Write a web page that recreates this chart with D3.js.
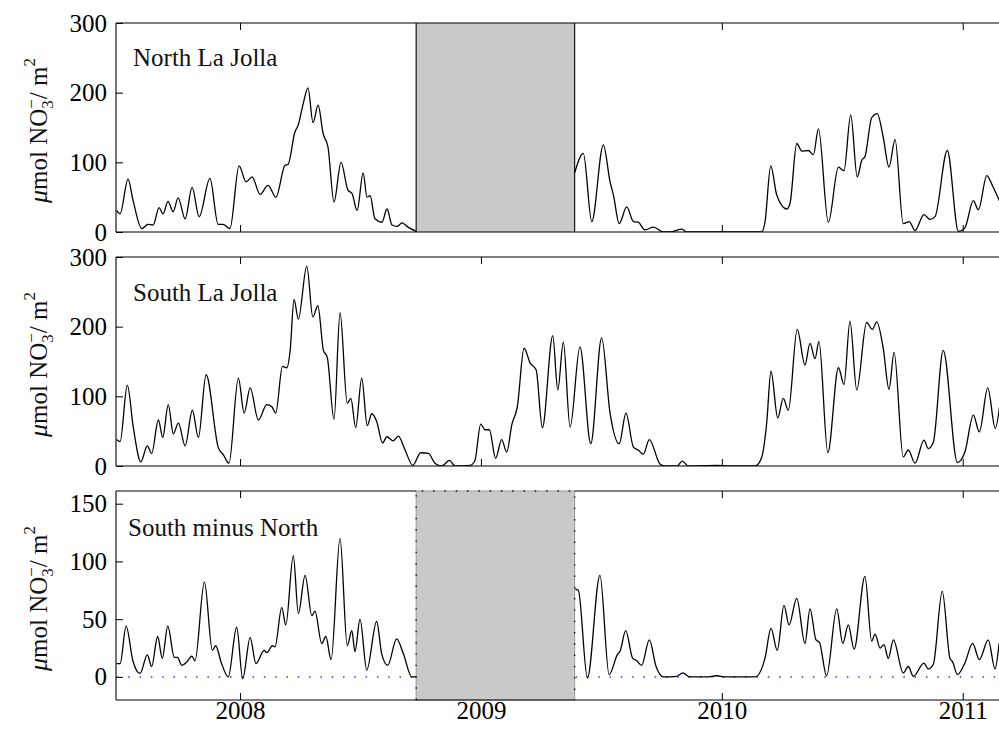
<!DOCTYPE html>
<html>
<head>
<meta charset="utf-8">
<script src="https://cdn.jsdelivr.net/npm/d3@7"></script>
<style>
html, body { margin: 0; padding: 0; background: #fff; }
svg { display: block; }
</style>
</head>
<body>
<svg id="chart" width="999" height="734"></svg>
<script>
// Depth-integrated nitrate (umol NO3- per m2) at the La Jolla moorings.
// Time is in decimal years; a null value marks a break in a record.
const yearTicks = [2008, 2009, 2010, 2011];
const gapStart = 2008.731;   // north mooring out of the water
const gapEnd = 2009.389;

const northTicks = [0, 100, 200, 300];
const southTicks = [0, 100, 200, 300];
const diffTicks = [0, 50, 100, 150];

const northTime = [
  2007.488, 2007.502, 2007.535, 2007.556, 2007.592, 2007.618, 2007.639, 2007.664, 2007.680, 2007.701,
  2007.722, 2007.743, 2007.772, 2007.801, 2007.830, 2007.875, 2007.909, 2007.929, 2007.958, 2007.996,
  2008.025, 2008.050, 2008.083, 2008.116, 2008.149, 2008.187, 2008.199, 2008.228, 2008.241, 2008.262,
  2008.282, 2008.303, 2008.324, 2008.345, 2008.365, 2008.390, 2008.419, 2008.448, 2008.465, 2008.486,
  2008.511, 2008.527, 2008.540, 2008.560, 2008.589, 2008.610, 2008.631, 2008.652, 2008.672, 2008.697,
  2008.731,
  2009.000,
  2009.389, 2009.425, 2009.460, 2009.508, 2009.536, 2009.550, 2009.574, 2009.605, 2009.633, 2009.653,
  2009.681, 2009.716, 2009.757, 2009.785, 2009.834, 2009.854, 2009.923, 2009.992, 2010.088, 2010.166,
  2010.179, 2010.203, 2010.228, 2010.269, 2010.283, 2010.311, 2010.332, 2010.359, 2010.380, 2010.401,
  2010.442, 2010.484, 2010.507, 2010.535, 2010.562, 2010.581, 2010.594, 2010.622, 2010.645, 2010.670,
  2010.694, 2010.719, 2010.753, 2010.778, 2010.802, 2010.839, 2010.864, 2010.885, 2010.936, 2010.982,
  2011.009, 2011.044, 2011.065, 2011.100, 2011.124, 2011.152
];
const northValue = [
  31, 26, 76, 45, 5, 11, 10, 35, 26, 44,
  29, 49, 19, 64, 22, 77, 11, 11, 5, 95,
  72, 79, 54, 67, 50, 96, 97, 144, 153, 184,
  207, 157, 182, 141, 122, 43, 100, 60, 55, 31,
  85, 50, 52, 19, 14, 33, 10, 8, 13, 7,
  1,
  null,
  85, 113, 15, 125, 72, 53, 12, 36, 15, 14,
  3, 7, 0, 0, 4, 0, 0, 0, 0, 0,
  14, 95, 53, 33, 41, 127, 116, 117, 111, 148,
  14, 93, 88, 168, 79, 103, 108, 164, 170, 136,
  93, 133, 12, 15, 2, 25, 18, 22, 117, 1,
  6, 45, 32, 81, 66, 45
];

const southTime = [
  2007.488, 2007.502, 2007.532, 2007.557, 2007.588, 2007.615, 2007.633, 2007.661, 2007.679, 2007.702,
  2007.723, 2007.744, 2007.772, 2007.802, 2007.827, 2007.859, 2007.910, 2007.931, 2007.954, 2007.993,
  2008.017, 2008.042, 2008.076, 2008.111, 2008.132, 2008.148, 2008.176, 2008.194, 2008.208, 2008.224,
  2008.242, 2008.277, 2008.302, 2008.323, 2008.346, 2008.362, 2008.390, 2008.415, 2008.445, 2008.460,
  2008.480, 2008.505, 2008.528, 2008.547, 2008.567, 2008.592, 2008.609, 2008.636, 2008.657, 2008.685,
  2008.717, 2008.750, 2008.782, 2008.809, 2008.837, 2008.869, 2008.892, 2008.955, 2008.975, 2008.999,
  2009.017, 2009.035, 2009.061, 2009.086, 2009.107, 2009.128, 2009.151, 2009.179, 2009.204, 2009.229,
  2009.255, 2009.298, 2009.319, 2009.342, 2009.370, 2009.411, 2009.456, 2009.501, 2009.536, 2009.574,
  2009.602, 2009.633, 2009.653, 2009.674, 2009.699, 2009.743, 2009.764, 2009.813, 2009.836, 2009.861,
  2009.979, 2010.034, 2010.089, 2010.138, 2010.166, 2010.186, 2010.204, 2010.232, 2010.255, 2010.276,
  2010.313, 2010.345, 2010.366, 2010.387, 2010.403, 2010.440, 2010.484, 2010.507, 2010.532, 2010.560,
  2010.601, 2010.625, 2010.643, 2010.670, 2010.694, 2010.715, 2010.753, 2010.774, 2010.802, 2010.839,
  2010.857, 2010.878, 2010.919, 2010.978, 2011.009, 2011.044, 2011.069, 2011.104, 2011.135, 2011.153
];
const southValue = [
  38, 35, 116, 55, 6, 29, 18, 66, 41, 88,
  46, 62, 29, 80, 41, 131, 26, 16, 4, 126,
  76, 112, 66, 88, 85, 76, 143, 141, 166, 239,
  211, 287, 214, 230, 166, 156, 67, 220, 90, 97,
  55, 126, 58, 75, 64, 33, 42, 36, 43, 23,
  1, 19, 18, 4, 0, 8, 0, 1, 8, 60,
  52, 52, 11, 38, 20, 59, 85, 169, 148, 138,
  55, 187, 109, 178, 56, 171, 32, 184, 76, 32,
  76, 27, 23, 17, 38, 3, 0, 0, 7, 0,
  1, 0, 0, 0, 13, 61, 136, 69, 97, 80,
  196, 145, 176, 154, 179, 19, 141, 117, 208, 109,
  206, 196, 207, 169, 110, 163, 13, 23, 4, 37,
  25, 34, 166, 5, 20, 73, 49, 112, 54, 85
];

const diffTime = [
  2007.488, 2007.502, 2007.527, 2007.555, 2007.585, 2007.615, 2007.633, 2007.658, 2007.677, 2007.700,
  2007.727, 2007.740, 2007.758, 2007.779, 2007.800, 2007.813, 2007.852, 2007.885, 2007.899, 2007.921,
  2007.951, 2007.986, 2008.011, 2008.042, 2008.066, 2008.100, 2008.111, 2008.134, 2008.145, 2008.173,
  2008.190, 2008.221, 2008.242, 2008.270, 2008.298, 2008.311, 2008.339, 2008.356, 2008.378, 2008.415,
  2008.445, 2008.464, 2008.477, 2008.498, 2008.526, 2008.567, 2008.588, 2008.613, 2008.650, 2008.678,
  2008.713, 2008.731,
  2009.000,
  2009.391, 2009.404, 2009.442, 2009.494, 2009.532, 2009.568, 2009.577, 2009.601, 2009.630, 2009.647,
  2009.667, 2009.699, 2009.727, 2009.757, 2009.813, 2009.838, 2009.868, 2009.937, 2009.979, 2010.013,
  2010.138, 2010.179, 2010.204, 2010.230, 2010.258, 2010.279, 2010.311, 2010.345, 2010.366, 2010.391,
  2010.405, 2010.435, 2010.477, 2010.502, 2010.525, 2010.549, 2010.594, 2010.622, 2010.636, 2010.657,
  2010.673, 2010.691, 2010.712, 2010.753, 2010.774, 2010.795, 2010.839, 2010.857, 2010.878, 2010.915,
  2010.947, 2010.958, 2010.978, 2011.009, 2011.041, 2011.069, 2011.106, 2011.134, 2011.151
];
const diffValue = [
  11.5, 11.5, 44, 14, 3, 19, 9, 35, 16, 44,
  17, 17, 10, 13, 18, 14, 82, 23, 27, 13,
  0, 43, -1.5, 34, 11.5, 23, 21, 27, 26, 60,
  45, 105, 55, 88, 53, 57, 29, 35, 15, 120,
  27, 40, 22, 50, 6, 48, 20, 10, 33, 20,
  0, 0,
  null,
  76, 75, -1, 88, 2, 20, 22, 40, 16, 14,
  10, 32, 9, 0, 0.5, 3.5, 0, 0, 1, 0,
  0, 16, 42, 23, 62, 45, 68, 29, 59, 32,
  30, 1, 59, 29, 45, 24, 87, 31, 37, 25,
  28, 16, 32, 3.5, 9, 0.5, 12, 7, 11, 74,
  16, 13, 2, 12, 29, 15, 32, 7, 29
];

// ---------------------------------------------------------------------------
const FONT = '"Liberation Serif", "Times New Roman", Times, serif';
const svg = d3.select('#chart');
svg.append('rect').attr('width', 999).attr('height', 734).attr('fill', '#fff');

const plotLeft = 116, plotRight = 1008.5;
const x = d3.scaleLinear().domain([2007.485, 2011.19]).range([plotLeft, plotRight]);

const panels = [
  { id: 'north', name: 'North La Jolla', time: northTime, value: northValue, domain: [0, 300],
    ticks: northTicks, top: 23, bottom: 232, gap: 'solid', labelX: 133, labelY: 66 },
  { id: 'south', name: 'South La Jolla', time: southTime, value: southValue, domain: [0, 300],
    ticks: southTicks, top: 257, bottom: 466, gap: null, labelX: 133, labelY: 301 },
  { id: 'diff', name: 'South minus North', time: diffTime, value: diffValue, domain: [-20, 161],
    ticks: diffTicks, top: 491, bottom: 700, gap: 'dotted', zero: true, labelX: 128, labelY: 536, yearLabels: true }
];

const styleAxis = g => {
  g.attr('font-family', FONT).attr('font-size', 25);
  g.select('.domain').remove();
  g.selectAll('.tick line').attr('stroke', '#000').attr('stroke-width', 1);
  g.selectAll('.tick text').attr('fill', '#000');
};

panels.forEach(p => {
  const y = d3.scaleLinear().domain(p.domain).range([p.bottom, p.top]);
  const g = svg.append('g').attr('class', 'panel-' + p.id);

  g.append('clipPath').attr('id', 'clip-' + p.id)
    .append('rect')
    .attr('x', plotLeft).attr('y', p.top)
    .attr('width', plotRight - plotLeft).attr('height', p.bottom - p.top);

  // inward ticks on the left, bottom and top edges
  g.append('g').attr('transform', `translate(${plotLeft},0)`)
    .call(d3.axisLeft(y).tickValues(p.ticks).tickSizeInner(-7).tickSizeOuter(0).tickPadding(9))
    .call(styleAxis);
  g.append('g').attr('transform', `translate(0,${p.bottom})`)
    .call(d3.axisBottom(x).tickValues(yearTicks).tickSizeInner(-7).tickSizeOuter(0).tickPadding(1.5)
      .tickFormat(p.yearLabels ? d3.format('d') : () => ''))
    .call(styleAxis);
  g.append('g').attr('transform', `translate(0,${p.top})`)
    .call(d3.axisTop(x).tickValues(yearTicks).tickSizeInner(-7).tickSizeOuter(0).tickFormat(() => ''))
    .call(styleAxis);

  // missing-data block
  const gx0 = x(gapStart), gx1 = x(gapEnd);
  if (p.gap) {
    g.append('rect')
      .attr('x', gx0).attr('y', p.top)
      .attr('width', gx1 - gx0).attr('height', p.bottom - p.top)
      .attr('fill', '#c9c9c9')
      .attr('stroke', p.gap === 'dotted' ? '#9a9a9a' : 'none')
      .attr('stroke-width', 1);
  }

  // frame
  const frame = g.append('g').attr('stroke', '#000').attr('stroke-width', 1.1).attr('fill', 'none');
  frame.append('line').attr('x1', plotLeft).attr('x2', plotLeft).attr('y1', p.top).attr('y2', p.bottom);
  frame.append('line').attr('x1', plotLeft).attr('x2', plotRight).attr('y1', p.bottom).attr('y2', p.bottom);
  frame.append('line').attr('x1', plotRight).attr('x2', plotRight).attr('y1', p.top).attr('y2', p.bottom);
  if (p.gap === 'dotted') {
    frame.append('line').attr('x1', plotLeft).attr('x2', gx0).attr('y1', p.top).attr('y2', p.top);
    frame.append('line').attr('x1', gx1).attr('x2', plotRight).attr('y1', p.top).attr('y2', p.top);
    g.append('path')
      .attr('d', `M${gx0},${p.bottom}V${p.top}H${gx1}V${p.bottom}`)
      .attr('fill', 'none').attr('stroke', '#000').attr('stroke-width', 1.3)
      .attr('stroke-dasharray', '1.4,9.9');
  } else {
    frame.append('line').attr('x1', plotLeft).attr('x2', plotRight).attr('y1', p.top).attr('y2', p.top);
    if (p.gap === 'solid') {
      frame.append('line').attr('x1', gx0).attr('x2', gx0).attr('y1', p.top).attr('y2', p.bottom);
      frame.append('line').attr('x1', gx1).attr('x2', gx1).attr('y1', p.top).attr('y2', p.bottom);
    }
  }

  // zero reference
  if (p.zero) {
    const zy = y(0);
    [[x.domain()[0], gapStart], [gapEnd, x.domain()[1]]].forEach(([a, b]) => {
      g.append('line')
        .attr('x1', x(a) + 1).attr('x2', x(b)).attr('y1', zy).attr('y2', zy)
        .attr('stroke', '#2f2fff').attr('stroke-width', 1.5)
        .attr('stroke-dasharray', '1.5,9.8');
    });
  }

  // series
  const pts = p.time.map((t, i) => [t, p.value[i]]);
  const line = d3.line()
    .defined(d => d[1] != null)
    .x(d => x(d[0]))
    .y(d => y(d[1]))
    .curve(d3.curveMonotoneX);
  g.append('path')
    .datum(pts)
    .attr('clip-path', `url(#clip-${p.id})`)
    .attr('d', line)
    .attr('fill', 'none')
    .attr('stroke', '#000')
    .attr('stroke-width', 1.3)
    .attr('stroke-linejoin', 'round');

  // panel name
  g.append('text')
    .attr('x', p.labelX).attr('y', p.labelY)
    .attr('font-family', FONT).attr('font-size', 25).attr('fill', '#111')
    .text(p.name);

  // y-axis title: μmol NO3−/ m2
  const cy = (p.top + p.bottom) / 2 + 3;
  const title = g.append('text')
    .attr('transform', `translate(47,${cy}) rotate(-90)`)
    .attr('text-anchor', 'middle')
    .attr('font-family', FONT).attr('font-size', 25).attr('fill', '#111');
  title.append('tspan').attr('font-style', 'italic').attr('font-size', 26).text('μ');
  title.append('tspan').text('mol NO');
  title.append('tspan').attr('font-size', 17).attr('dy', 6).text('3');
  title.append('tspan').attr('font-size', 17).attr('dx', -8.5).attr('dy', -16).text('−');
  title.append('tspan').attr('dy', 10).text('/ m');
  title.append('tspan').attr('font-size', 17).attr('dy', -12).text('2');
});
</script>
</body>
</html>
